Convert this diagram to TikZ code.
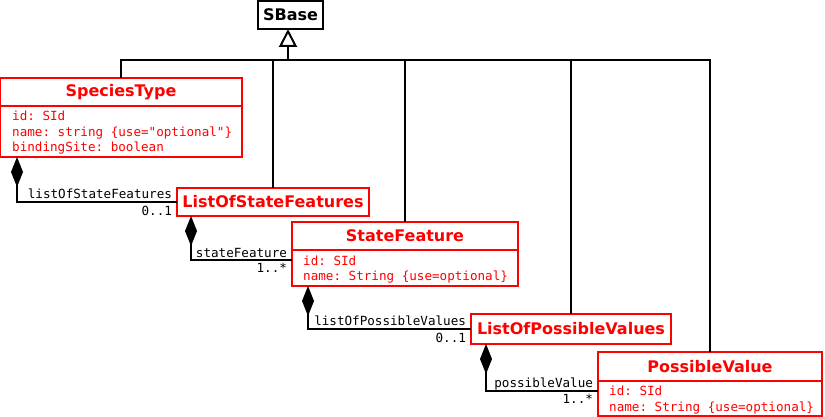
\documentclass[tikz,border=0pt]{standalone}
\usepackage{fontspec}
\setmainfont{DejaVu Sans}
\newfontfamily\umlmono{DejaVu Sans Mono}
\usetikzlibrary{arrows.meta}
\definecolor{umlred}{RGB}{255,0,0}
\frenchspacing
\begin{document}
\begin{tikzpicture}[x=1pt,y=-1pt,
  classtitle/.style={draw=umlred, line width=2pt, text=umlred, font=\fontsize{16}{19}\selectfont\bfseries, anchor=north west, inner sep=0pt, outer sep=0pt},
  basebox/.style={draw=black, line width=2pt, text=black, font=\fontsize{16}{19}\selectfont\bfseries, anchor=north west, inner sep=0pt, outer sep=0pt},
  attrbox/.style={draw=umlred, line width=2pt, anchor=north west, inner sep=0pt, outer sep=0pt},
  attrtext/.style={text=umlred, font=\umlmono\fontsize{12.6}{15.5}\selectfont, anchor=west, align=left, inner sep=0pt, yshift=-1.5pt},
  assoc/.style={line width=2pt, draw=black},
  lbl/.style={font=\umlmono\fontsize{12.6}{15}\selectfont, inner sep=0pt, text=black},
  comp/.style={{Diamond[length=30pt,width=12pt]}-}
]
\useasboundingbox (0,0) rectangle (825,417);

% classes
\node[basebox, minimum width=65pt, minimum height=28pt] (sbase) at (258,1) {SBase};

\node[classtitle, minimum width=242pt, minimum height=28pt] (st) at (0,78) {SpeciesType};
\node[attrbox, minimum width=242pt, minimum height=51pt] (stA) at (st.south west) {};
\node[attrtext] (stT) at ([xshift=12pt]stA.west)
  {id: SId\\name: string \{use="optional"\}\\bindingSite: boolean};

\node[classtitle, minimum width=192pt, minimum height=28pt] (lsf) at (177,188) {ListOfStateFeatures};

\node[classtitle, minimum width=226pt, minimum height=28pt] (sf) at (292,222) {StateFeature};
\node[attrbox, minimum width=226pt, minimum height=36pt] (sfA) at (sf.south west) {};
\node[attrtext] (sfT) at ([xshift=11pt]sfA.west)
  {id: SId\\name: String \{use=optional\}};

\node[classtitle, minimum width=200pt, minimum height=30pt] (lpv) at (471,314) {ListOfPossibleValues};

\node[classtitle, minimum width=224pt, minimum height=29pt] (pv) at (598,352) {PossibleValue};
\node[attrbox, minimum width=224pt, minimum height=35pt] (pvA) at (pv.south west) {};
\node[attrtext] (pvT) at ([xshift=11pt]pvA.west)
  {id: SId\\name: String \{use=optional\}};

% generalisation
\coordinate (hub) at (288,60);
\draw[assoc] (st.north) |- (hub);
\draw[assoc] (lsf.north) |- (hub);
\draw[assoc] (sf.north) |- (hub);
\draw[assoc] (lpv.north) |- (hub);
\draw[assoc] (pv.north) |- (hub);
\draw[assoc, -{Triangle[open, length=18pt, width=18pt, line width=2pt]}] (hub) -- (hub |- sbase.south);

% compositions
\draw[assoc, comp] ([xshift=17pt]stA.south west) |- (lsf.west)
  node[lbl, pos=1, anchor=base east, xshift=-4pt, yshift=3pt] {listOfStateFeatures}
  node[lbl, pos=1, anchor=base east, xshift=-4pt, yshift=-13pt] {0..1};
\draw[assoc, comp] ([xshift=14pt]lsf.south west) |- ([yshift=-10pt]sfA.north west)
  node[lbl, pos=1, anchor=base east, xshift=-4pt, yshift=3pt] {stateFeature}
  node[lbl, pos=1, anchor=base east, xshift=-4pt, yshift=-12pt] {1..*};
\draw[assoc, comp] ([xshift=16pt]sfA.south west) |- (lpv.west)
  node[lbl, pos=1, anchor=base east, xshift=-4pt, yshift=3.5pt] {listOfPossibleValues}
  node[lbl, pos=1, anchor=base east, xshift=-4pt, yshift=-13pt] {0..1};
\draw[assoc, comp] ([xshift=15pt]lpv.south west) |- ([yshift=-10pt]pvA.north west)
  node[lbl, pos=1, anchor=base east, xshift=-4pt, yshift=3.5pt] {possibleValue}
  node[lbl, pos=1, anchor=base east, xshift=-4pt, yshift=-12.5pt] {1..*};
\end{tikzpicture}
\end{document}
